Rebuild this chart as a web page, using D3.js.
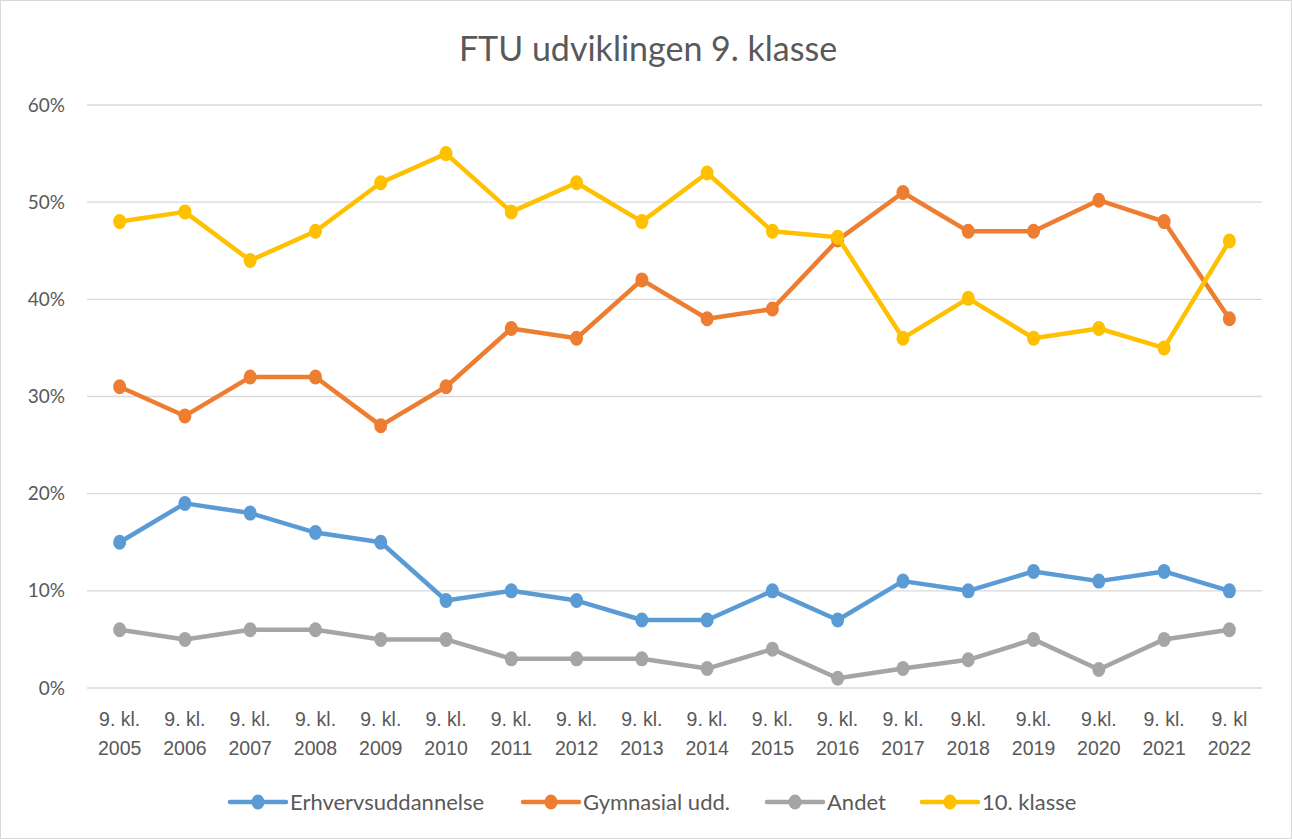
<!DOCTYPE html>
<html>
<head>
<meta charset="utf-8">
<script src="https://cdn.jsdelivr.net/npm/d3@7"></script>
<style>
  body { margin: 0; background: #fff; }
  svg { display: block; font-family: Lato, "Open Sans", sans-serif; }
</style>
</head>
<body>
<svg id="chart" width="1292" height="839"></svg>
<script>
// Data
var categories = ["9. kl.|2005", "9. kl.|2006", "9. kl.|2007", "9. kl.|2008", "9. kl.|2009",
  "9. kl.|2010", "9. kl.|2011", "9. kl.|2012", "9. kl.|2013", "9. kl.|2014", "9. kl.|2015",
  "9. kl.|2016", "9. kl.|2017", "9.kl.|2018", "9.kl.|2019", "9.kl.|2020", "9. kl.|2021", "9. kl|2022"];
var erhverv   = [15, 19, 18, 16, 15, 9, 10, 9, 7, 7, 10, 7, 11, 10, 12, 11, 12, 10];
var gymnasial = [31, 28, 32, 32, 27, 31, 37, 36, 42, 38, 39, 46.1, 51, 47, 47, 50.2, 48, 38];
var andet     = [6, 5, 6, 6, 5, 5, 3, 3, 3, 2, 4, 1, 2, 2.9, 5, 1.9, 5, 6];
var klasse10  = [48, 49, 44, 47, 52, 55, 49, 52, 48, 53, 47, 46.4, 36, 40.1, 36, 37, 35, 46];
var seriesNames = ["Erhvervsuddannelse", "Gymnasial udd.", "Andet", "10. klasse"];
var seriesColors = ["#5B9BD5", "#ED7D31", "#A5A5A5", "#FFC000"];
var yTicks = [0, 10, 20, 30, 40, 50, 60];

var series = [erhverv, gymnasial, andet, klasse10].map(function(v, i) {
  return { name: seriesNames[i], color: seriesColors[i], values: v };
});

var svg = d3.select("#chart");
var W = 1292, H = 839;

// outer border
svg.append("rect")
  .attr("x", 0.5).attr("y", 0.5)
  .attr("width", W - 1).attr("height", H - 1)
  .attr("fill", "#fff").attr("stroke", "#d9d9d9");

var margin = { top: 105, right: 30, bottom: 151, left: 87 };
var width = 1262 - margin.left, height = 688 - margin.top;

var g = svg.append("g").attr("transform", "translate(" + margin.left + "," + margin.top + ")");

var x = d3.scaleBand().domain(d3.range(categories.length)).range([0, width]);
var y = d3.scaleLinear().domain([0, 60]).range([height, 0]);

// gridlines
g.append("g").selectAll("line").data(yTicks).enter().append("line")
  .attr("x1", 0).attr("x2", width)
  .attr("y1", function(d) { return y(d); }).attr("y2", function(d) { return y(d); })
  .attr("stroke", "#d9d9d9").attr("stroke-width", 1.3);

// y axis labels
var yAxis = g.append("g").call(d3.axisLeft(y).tickValues(yTicks).tickSize(0).tickPadding(22)
  .tickFormat(function(d) { return d + "%"; }));
yAxis.select(".domain").remove();
yAxis.selectAll("text").attr("fill", "#595959").style("font-size", "19px")
  .style("font-family", "Lato, 'Open Sans', sans-serif");

// x axis labels (two lines)
var xAxis = g.append("g").attr("transform", "translate(0," + height + ")")
  .call(d3.axisBottom(x).tickSize(0).tickFormat(""));
xAxis.select(".domain").remove();
xAxis.selectAll(".tick").each(function(d) {
  var parts = categories[d].split("|");
  var t = d3.select(this).append("text")
    .attr("fill", "#595959").attr("text-anchor", "middle")
    .style("font-size", "19.5px");
  t.append("tspan").attr("x", 0).attr("y", 38).text(parts[0]);
  t.append("tspan").attr("x", 0).attr("y", 67).text(parts[1]);
});

var line = d3.line()
  .x(function(d, i) { return x(i) + x.bandwidth() / 2; })
  .y(function(d) { return y(d); });

series.forEach(function(s) {
  var sg = g.append("g");
  sg.append("path")
    .attr("d", line(s.values))
    .attr("fill", "none")
    .attr("stroke", s.color)
    .attr("stroke-width", 4.5)
    .attr("stroke-linejoin", "round");
  sg.selectAll("ellipse").data(s.values).enter().append("ellipse")
    .attr("cx", function(d, i) { return x(i) + x.bandwidth() / 2; })
    .attr("cy", function(d) { return y(d); })
    .attr("rx", 6.5).attr("ry", 7.5)
    .attr("fill", s.color);
});

// title
svg.append("text")
  .attr("x", W / 2 + 2).attr("y", 61)
  .attr("text-anchor", "middle")
  .attr("fill", "#595959")
  .style("font-size", "34px")
  .text("FTU udviklingen 9. klasse");

// legend
var legendX = [230, 523, 767, 922];
var legend = svg.append("g").selectAll("g").data(series).enter().append("g")
  .attr("transform", function(d, i) { return "translate(" + legendX[i] + ",802)"; });
legend.append("line")
  .attr("x1", 0).attr("x2", 56).attr("y1", 0).attr("y2", 0)
  .attr("stroke", function(d) { return d.color; }).attr("stroke-width", 4.5)
  .attr("stroke-linecap", "round");
legend.append("ellipse")
  .attr("cx", 28).attr("cy", 0).attr("rx", 6.5).attr("ry", 7.5)
  .attr("fill", function(d) { return d.color; });
legend.append("text")
  .attr("x", 60).attr("y", 7.5)
  .attr("fill", "#595959")
  .style("font-size", "22px")
  .text(function(d) { return d.name; });
</script>
</body>
</html>
